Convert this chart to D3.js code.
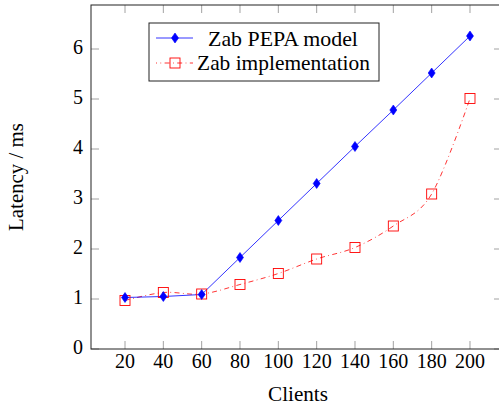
<!DOCTYPE html>
<html><head><meta charset="utf-8">
<script src="https://cdn.jsdelivr.net/npm/d3@7"></script>
<style>body{margin:0;background:#fff}svg{display:block}text{font-family:"Liberation Serif","DejaVu Serif",serif;fill:#000}</style>
</head><body><svg id="c" width="499" height="406"></svg>
<script>
const clients = [20, 40, 60, 80, 100, 120, 140, 160, 180, 200];
const pepaModel = [1.03, 1.05, 1.09, 1.83, 2.57, 3.31, 4.05, 4.78, 5.52, 6.26];
const implementation = [0.97, 1.13, 1.10, 1.29, 1.51, 1.80, 2.03, 2.46, 3.10, 5.01];
const yTicks = [0, 1, 2, 3, 4, 5, 6];
const seriesNames = ["Zab PEPA model", "Zab implementation"];

const svg = d3.select("#c");
const L = 91, R = 502, T = 5, B = 349;
const x = d3.scaleLinear().domain([2.26, 216.7]).range([L, R]);
const y = d3.scaleLinear().domain([0, (B - T) / 50]).range([B, T]);

function fit(sel, w) {
  sel.attr("font-size", 20);
  const l = sel.node().getComputedTextLength();
  sel.attr("font-size", 20 * w / l);
  return sel;
}

// ticks (inside, gray)
const tk = 8;
const g = svg.append("g").attr("stroke", "#8a8a8a").attr("stroke-width", 0.8);
clients.forEach(c => {
  g.append("line").attr("x1", x(c)).attr("x2", x(c)).attr("y1", B).attr("y2", B - tk);
  g.append("line").attr("x1", x(c)).attr("x2", x(c)).attr("y1", T).attr("y2", T + tk);
});
yTicks.forEach(v => {
  g.append("line").attr("x1", L).attr("x2", L + tk).attr("y1", y(v)).attr("y2", y(v));
  g.append("line").attr("x1", R).attr("x2", R - tk).attr("y1", y(v)).attr("y2", y(v));
});

// tick labels
const probe = svg.append("text").text("20");
fit(probe, 20);
const fs = +probe.attr("font-size");
probe.remove();
clients.forEach(c => svg.append("text").attr("x", x(c)).attr("y", 368)
  .attr("text-anchor", "middle").attr("font-size", fs).text(c));
yTicks.forEach(v => svg.append("text").attr("x", 83).attr("y", y(v) + 5)
  .attr("text-anchor", "end").attr("font-size", fs).text(v));

// data lines
const pts1 = clients.map((c, i) => [x(c), y(pepaModel[i])]);
const pts2 = clients.map((c, i) => [x(c), y(implementation[i])]);
svg.append("path").attr("d", d3.line().curve(d3.curveCatmullRom.alpha(0))(pts2))
  .attr("fill", "none").attr("stroke", "#ff0000").attr("stroke-width", 0.8)
  .attr("stroke-dasharray", "5,3.4,0.8,3.4");
svg.append("path").attr("d", d3.line()(pts1))
  .attr("fill", "none").attr("stroke", "#0000ff").attr("stroke-width", 0.8);

function diamond(px, py) {
  svg.append("path").attr("d", `M${px},${py-5}L${px+3.5},${py}L${px},${py+5}L${px-3.5},${py}Z`)
    .attr("fill", "#0000ff").attr("stroke", "#0000ff").attr("stroke-width", 0.6);
}
function square(px, py) {
  svg.append("rect").attr("x", px - 5).attr("y", py - 5).attr("width", 10).attr("height", 10)
    .attr("fill", "none").attr("stroke", "#ff0000").attr("stroke-width", 0.9);
}
pts2.forEach(p => square(p[0], p[1]));
pts1.forEach(p => diamond(p[0], p[1]));

// axes box
svg.append("rect").attr("x", L).attr("y", T).attr("width", R - L).attr("height", B - T)
  .attr("fill", "none").attr("stroke", "#222").attr("stroke-width", 1);

// legend
svg.append("rect").attr("x", 149).attr("y", 23).attr("width", 230).attr("height", 58)
  .attr("fill", "#fff").attr("stroke", "#222").attr("stroke-width", 1);
svg.append("line").attr("x1", 156).attr("x2", 193).attr("y1", 38).attr("y2", 38)
  .attr("stroke", "#0000ff").attr("stroke-width", 0.8);
diamond(175, 38);
svg.append("line").attr("x1", 156).attr("x2", 193).attr("y1", 63).attr("y2", 63)
  .attr("stroke", "#ff0000").attr("stroke-width", 0.8).attr("stroke-dasharray", "5,3.4,0.8,3.4")
  .attr("stroke-dashoffset", 4);
square(175, 63);
fit(svg.append("text").attr("x", 283).attr("y", 46).attr("text-anchor", "middle").text(seriesNames[0]), 150);
fit(svg.append("text").attr("x", 283.5).attr("y", 70).attr("text-anchor", "middle").text(seriesNames[1]), 173);

// axis titles
fit(svg.append("text").attr("x", 298).attr("y", 401).attr("text-anchor", "middle").text("Clients"), 60);
fit(svg.append("text").attr("transform", "translate(23,177) rotate(-90)").attr("text-anchor", "middle")
  .text("Latency / ms"), 108);
</script></body></html>
